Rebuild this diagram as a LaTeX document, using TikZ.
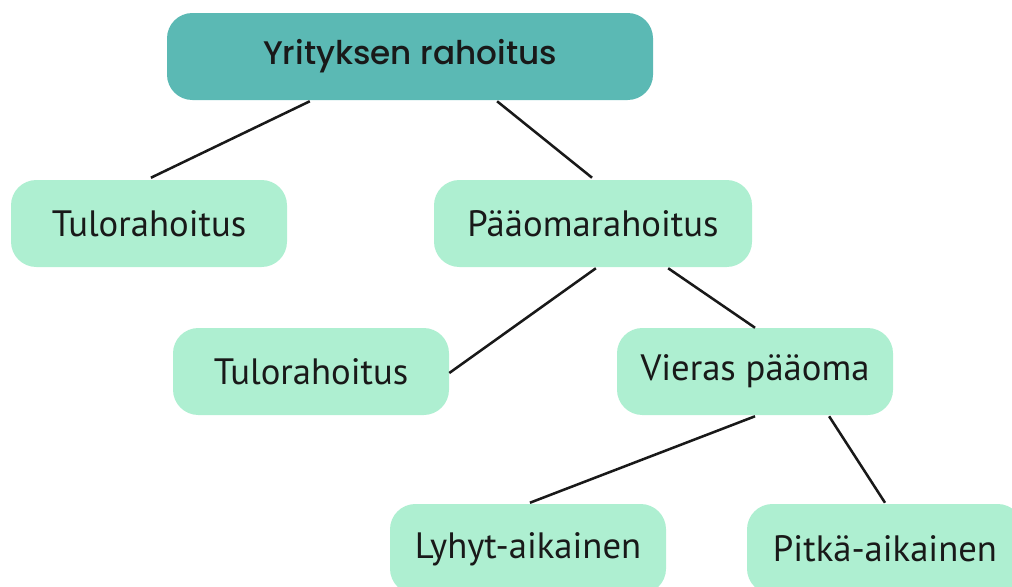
\documentclass[tikz,border=0pt]{standalone}
\usepackage{fontspec}
\setmainfont{PT Sans}
\newfontfamily\topfont{Poppins}[UprightFont=* Medium]
\usetikzlibrary{calc}
\definecolor{teal1}{HTML}{5BB9B4}
\definecolor{mint}{HTML}{AEEFD1}
\begin{document}
\begin{tikzpicture}[x=0.75pt,y=-0.75pt,
  box/.style={fill=mint, rounded corners=19pt, inner sep=0pt, font=\fontsize{27.5}{30}\selectfont, text=black!90},
  topbox/.style={fill=teal1, rounded corners=19pt, inner sep=0pt, font=\topfont\fontsize{24.5}{28}\selectfont, text=black!90},
  link/.style={line width=1.9pt, black!90}]
\useasboundingbox (0,0) rectangle (1012,586);
\clip (0,0) rectangle (1012,586);
\node[topbox, minimum width=486*0.75pt, minimum height=87*0.75pt] (top) at (410,56.5) {Yrityksen rahoitus};
\node[box, minimum width=276*0.75pt, minimum height=87*0.75pt] (tulo1) at (149,223.5) {Tulorahoitus};
\node[box, minimum width=318*0.75pt, minimum height=87*0.75pt] (paa) at (593,223.5) {Pääomarahoitus};
\node[box, minimum width=276*0.75pt, minimum height=87*0.75pt] (tulo2) at (311,371.5) {Tulorahoitus};
\node[box, minimum width=276*0.75pt, minimum height=87*0.75pt] (vieras) at (755,371.5) {Vieras pääoma};
\node[box, minimum width=276*0.75pt, minimum height=90*0.75pt] (lyhyt) at (528,549) {Lyhyt-aikainen};
\node[box, minimum width=276*0.75pt, minimum height=90*0.75pt] (pitka) at (885,549) {Pitkä-aikainen};
% connector end points
\coordinate (a1) at ($(top.south west)!0.294!(top.south east)+(0,1)$);
\coordinate (a2) at ($(tulo1.north west)!0.507!(tulo1.north east)+(0,-2)$);
\coordinate (b1) at ($(top.south west)!0.679!(top.south east)+(0,1)$);
\coordinate (b2) at ($(paa.north west)!0.497!(paa.north east)+(0,-2)$);
\coordinate (c1) at ($(paa.south west)!0.509!(paa.south east)+(0,1)$);
\coordinate (c2) at ($(tulo2.east)+(0,1.5)$);
\coordinate (d1) at ($(paa.south west)!0.736!(paa.south east)+(0,1)$);
\coordinate (d2) at ($(vieras.north)+(0,0)$);
\coordinate (e1) at ($(vieras.south)+(0,1)$);
\coordinate (e2) at ($(lyhyt.north west)!0.507!(lyhyt.north east)+(0,-1)$);
\coordinate (f1) at ($(vieras.south west)!0.768!(vieras.south east)+(0,1)$);
\coordinate (f2) at ($(pitka.north)+(0,-1)$);
\draw[link] (a1) -- (a2);
\draw[link] (b1) -- (b2);
\draw[link] (c1) -- (c2);
\draw[link] (d1) -- (d2);
\draw[link] (e1) -- (e2);
\draw[link] (f1) -- (f2);
\end{tikzpicture}
\end{document}
